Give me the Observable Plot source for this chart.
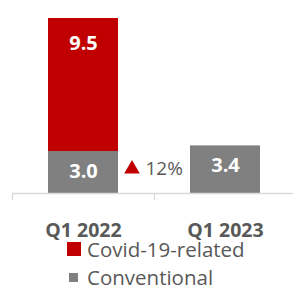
<!DOCTYPE html>
<html>
<head>
<meta charset="utf-8">
<script src="https://cdn.jsdelivr.net/npm/d3@7"></script>
<script src="https://cdn.jsdelivr.net/npm/@observablehq/plot@0.6"></script>
<style>
  body { margin: 0; background: #fff; font-family: "Open Sans", sans-serif; overflow: hidden; }
  #legend { margin-left: 67px; padding-top: 9px; color: #595959; font-size: 20.5px; line-height: 18px; }
  .row { display: flex; align-items: center; height: 18px; }
  .row + .row { margin-top: 10px; }
  .sw { display: inline-block; margin-right: 6px; }
</style>
</head>
<body>
<div id="chart"></div>
<div id="legend"></div>
<script>
const categories = ["Q1 2022", "Q1 2023"];
const series = ["Conventional", "Covid-19-related"];
const conventional = [3.0, 3.4];
const covid = [9.5, 0];
const changeLabel = ["12%"];
const colors = {"Covid-19-related": "#C00000", "Conventional": "#808080"};

const data = [];
categories.forEach((c, i) => {
  data.push({cat: c, series: "Conventional", value: conventional[i]});
  if (covid[i] > 0) data.push({cat: c, series: "Covid-19-related", value: covid[i]});
});

const H = 231;
const labelOpts = {fill: "white", fontWeight: "bold", fontSize: 20};
const plot = Plot.plot({
  width: 293,
  height: H,
  marginTop: 18,
  marginBottom: H - 193,
  marginLeft: 12,
  marginRight: -3,
  style: {fontFamily: "'Open Sans', sans-serif", color: "#595959", overflow: "visible"},
  x: {domain: categories, paddingInner: 0, paddingOuter: 0, axis: null},
  y: {domain: [0, 12.5], axis: null},
  color: {domain: series, range: series.map(s => colors[s])},
  marks: [
    Plot.barY(data, {x: "cat", y: "value", fill: "series", z: "series", insetLeft: 36, insetRight: 36}),
    Plot.text(data, Plot.stackY2({x: "cat", y: "value", z: "series", ...labelOpts, dy: 20,
      text: d => d.series === "Conventional" ? d.value.toFixed(1) : null})),
    Plot.text(data, Plot.stackY2({x: "cat", y: "value", z: "series", ...labelOpts, dy: 25,
      text: d => d.series === "Covid-19-related" ? d.value.toFixed(1) : null})),
    Plot.ruleY([0], {stroke: "#D9D9D9", strokeWidth: 1.3}),
    Plot.ruleX(categories, {x: d => d, dx: -71, y1: 0, y2: -0.5, stroke: "#D9D9D9", strokeWidth: 1.3}),
    Plot.axisX({label: null, tickSize: 0, tickPadding: 30, fontSize: 19.5, fontWeight: "bold", fill: "#595959"}),
    Plot.dot(changeLabel, {x: () => "Q1 2022", y: 1.75, dx: 48.5, symbol: "triangle", r: 5.8, fill: "#C00000", stroke: "none"}),
    Plot.text(changeLabel, {x: () => "Q1 2022", y: 1.75, dx: 62, text: d => d, textAnchor: "start", fontSize: 19, fill: "#595959"})
  ]
});
document.getElementById("chart").appendChild(plot);

const legendItems = [
  {name: "Covid-19-related", size: 14},
  {name: "Conventional", size: 9}
];
const lg = document.getElementById("legend");
legendItems.forEach(it => {
  const row = document.createElement("div");
  row.className = "row";
  const sw = document.createElement("span");
  sw.className = "sw";
  sw.style.width = it.size + "px";
  sw.style.height = it.size + "px";
  sw.style.background = colors[it.name];
  if (it.size < 14) { sw.style.marginLeft = "2px"; sw.style.marginRight = "9px"; }
  row.appendChild(sw);
  row.appendChild(document.createTextNode(it.name));
  lg.appendChild(row);
});
</script>
</body>
</html>
